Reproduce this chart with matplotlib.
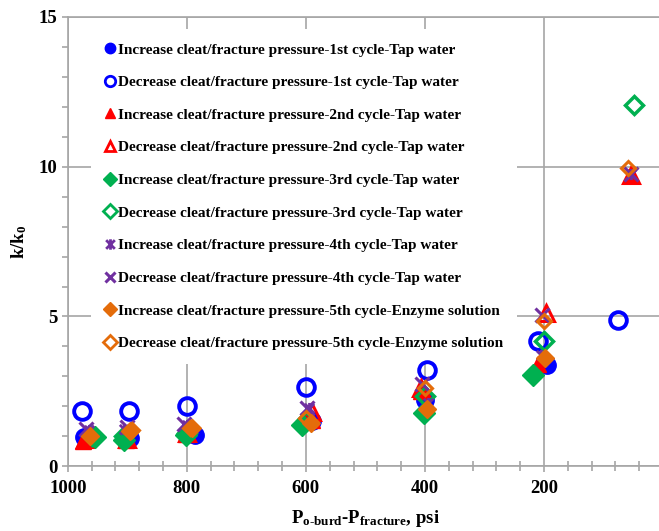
import matplotlib
matplotlib.use("Agg")
import matplotlib.pyplot as plt
from matplotlib.path import Path
from matplotlib.ticker import MultipleLocator

plt.rcParams["font.family"] = ["Liberation Serif", "DejaVu Serif"]
plt.rcParams["font.weight"] = "bold"
plt.rcParams["mathtext.fontset"] = "custom"
plt.rcParams["mathtext.rm"] = "Liberation Serif:bold"
plt.rcParams["mathtext.it"] = "Liberation Serif:bold"
plt.rcParams["mathtext.bf"] = "Liberation Serif:bold"

# data: (pressure difference psi, k/k0)
inc1_x = [973, 895, 787, 590, 400, 195]
inc1_y = [0.97, 0.95, 1.05, 1.52, 2.22, 3.38]
dec1_x = [977, 898, 799, 600, 397, 210, 75]
dec1_y = [1.86, 1.86, 2.02, 2.65, 3.20, 4.18, 4.88]
inc2_x = [975, 902, 801, 590, 406, 210, 54]
inc2_y = [0.85, 0.88, 1.07, 1.55, 2.50, 3.40, 9.72]
dec2_x = [972, 900, 800, 590, 406, 197, 54]
dec2_y = [0.90, 0.92, 1.12, 1.80, 2.62, 5.10, 9.72]
inc3_x = [955, 905, 801, 607, 402, 218]
inc3_y = [0.98, 0.88, 1.04, 1.36, 1.78, 3.06]
dec3_x = [960, 905, 800, 600, 400, 200, 48]
dec3_y = [1.00, 1.00, 1.10, 1.50, 2.35, 4.18, 12.07]
inc4_x = [965, 905, 800, 595, 395, 205, 54]
inc4_y = [1.20, 1.25, 1.37, 1.95, 2.10, 3.70, 9.75]
dec4_x = [970, 900, 805, 598, 405, 203, 54]
dec4_y = [1.25, 1.30, 1.40, 1.95, 2.75, 5.05, 9.75]
inc5_x = [963, 895, 792, 592, 396, 198]
inc5_y = [1.00, 1.18, 1.27, 1.45, 1.90, 3.60]
dec5_x = [963, 893, 794, 600, 400, 200, 58]
dec5_y = [1.02, 1.20, 1.27, 1.60, 2.62, 4.85, 9.95]

labels = [
    "Increase cleat/fracture pressure-1st cycle-Tap water",
    "Decrease cleat/fracture pressure-1st cycle-Tap water",
    "Increase cleat/fracture pressure-2nd cycle-Tap water",
    "Decrease cleat/fracture pressure-2nd cycle-Tap water",
    "Increase cleat/fracture pressure-3rd cycle-Tap water",
    "Decrease cleat/fracture pressure-3rd cycle-Tap water",
    "Increase cleat/fracture pressure-4th cycle-Tap water",
    "Decrease cleat/fracture pressure-4th cycle-Tap water",
    "Increase cleat/fracture pressure-5th cycle-Enzyme solution",
    "Decrease cleat/fracture pressure-5th cycle-Enzyme solution",
]

blue, red, green = "#0000FF", "#FF0000", "#00B050"
purple, orange = "#7030A0", "#E46C0A"

star = Path([(-1, -1), (1, 1), (-1, 1), (1, -1), (0, -1.2), (0, 1.2)],
            [Path.MOVETO, Path.LINETO, Path.MOVETO, Path.LINETO,
             Path.MOVETO, Path.LINETO])

fig = plt.figure(figsize=(6.59, 5.31), dpi=100)
ax = fig.add_axes([0.103, 0.122, 0.903, 0.846])

ax.plot(inc1_x, inc1_y, "o", ms=12.5, color=blue, label=labels[0])
ax.plot(dec1_x, dec1_y, "o", ms=12, mfc="none", mec=blue, mew=2.8, label=labels[1])
ax.plot(inc2_x, inc2_y, "^", ms=12, color=red, label=labels[2])
ax.plot(dec2_x, dec2_y, "^", ms=11, mfc="none", mec=red, mew=2.2, label=labels[3])
ax.plot(inc3_x, inc3_y, "D", ms=11.5, color=green, label=labels[4])
ax.plot(dec3_x, dec3_y, "D", ms=9.5, mfc="none", mec=green, mew=2.5, label=labels[5])
ax.plot(inc4_x, inc4_y, marker=star, ls="none", ms=8, mec=purple, mew=2, label=labels[6])
ax.plot(dec4_x, dec4_y, "x", ms=10, mec=purple, mew=2.2, label=labels[7])
ax.plot(inc5_x, inc5_y, "D", ms=9, color=orange, label=labels[8])
ax.plot(dec5_x, dec5_y, "D", ms=7, mfc="none", mec=orange, mew=2.2, label=labels[9])

ax.set_xlim(1000, 0)
ax.set_ylim(0, 15)
ax.xaxis.set_major_locator(MultipleLocator(200))
ax.xaxis.set_minor_locator(MultipleLocator(40))
ax.yaxis.set_major_locator(MultipleLocator(5))
ax.yaxis.set_minor_locator(MultipleLocator(1))
ax.set_xticks([1000, 800, 600, 400, 200])
ax.grid(True, which="major", color="#A6A6A6", lw=1.2, zorder=0)
ax.set_axisbelow(True)
for s in ax.spines.values():
    s.set_color("#A6A6A6")
    s.set_linewidth(1.2)
ax.tick_params(which="both", color="#A6A6A6", width=1.2, labelsize=13.5)
ax.tick_params(axis="y", which="both", direction="out", length=4)
ax.tick_params(axis="x", which="major", direction="out", length=4, pad=6)
ax.tick_params(axis="x", which="minor", direction="inout", length=7)

ax.set_xlabel(r"$\mathrm{P_{o\text{-}burd}\text{-}P_{fracture}}$, psi", fontsize=13.5,
              fontweight="bold", labelpad=8)
ax.set_ylabel(r"$\mathrm{k/k_0}$", fontsize=13.5, fontweight="bold", labelpad=7)

leg = ax.legend(loc="upper left", bbox_to_anchor=(0.039, 0.973), fontsize=11,
                frameon=True, facecolor="white", edgecolor="none", fancybox=False,
                framealpha=1, labelspacing=1.24, handlelength=0.7,
                handletextpad=0.15, borderpad=0.9, borderaxespad=0)
leg.set_zorder(1.8)  # above gridlines, below the data markers
for h in leg.legend_handles:
    h.set_markersize(7.5)
    if h.get_markerfacecolor() == "none":
        h.set_markeredgewidth(2)

fig.savefig("out.png", dpi=100)
